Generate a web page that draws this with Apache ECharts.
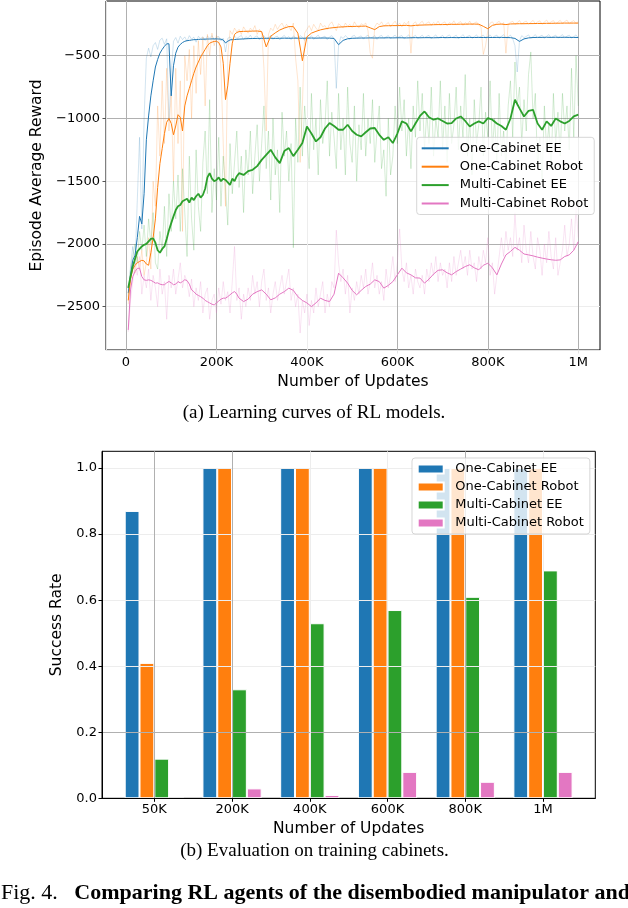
<!DOCTYPE html>
<html>
<head>
<meta charset="utf-8">
<script src="https://cdn.jsdelivr.net/npm/echarts@6/dist/echarts.min.js"></script>
<style>
  html, body { margin: 0; padding: 0; background: #fff; }
  #curves { position: absolute; left: 0; top: 0; width: 628px; height: 430px; }
  #bars { position: absolute; left: 0; top: 430px; width: 628px; height: 478px; }
</style>
</head>
<body>
<div id="curves"></div>
<div id="bars"></div>
<script>
// ---------- (a) learning curves, x in thousands of updates ----------
const smoothSteps = [5,10,15,20,25,30,35,40,45,50,55,60,65,70,75,80,85,90,95,100,
  105,110,115,120,125,130,135,140,145,150,155,160,165,170,175,180,185,190,195,200,
  205,210,215,220,225,230,235,240,245,250,
  260,270,280,290,300,310,320,330,340,350,360,370,380,390,400,410,420,430,440,450,
  460,470,480,490,500,510,520,530,540,550,560,570,580,590,600,610,620,630,640,650,
  660,670,680,690,700,710,720,730,740,750,760,770,780,790,800,810,820,830,840,850,
  860,870,880,890,900,910,920,930,940,950,960,970,980,990,1000];

const oneEE = [-2390,-2250,-2130,-2090,-1950,-1780,-1840,-1600,-1170,-980,-820,-700,-590,-530,-480,-450,-425,-405,-405,-820,
  -580,-480,-432,-410,-395,-385,-380,-378,-375,-372,-372,-370,-369,-368,-368,-367,-367,-366,-366,-366,
  -367,-368,-375,-398,-385,-374,-372,-371,-369,-368,
  -366,-364,-363,-362,-362,-361,-361,-362,-361,-360,
  -361,-360,-360,-361,-360,-359,-360,-359,-359,-360,
  -362,-412,-378,-365,-361,-360,-359,-359,-358,-359,
  -358,-358,-357,-358,-357,-357,-358,-357,-356,-357,
  -356,-356,-357,-356,-355,-356,-355,-356,-355,-355,
  -354,-355,-354,-355,-354,-355,-354,-354,-355,-356,
  -362,-386,-366,-358,-355,-354,-354,-353,-354,-353,
  -354,-353,-354,-354,-355];

const oneRobot = [-2450,-2280,-2200,-2170,-2150,-2140,-2130,-2135,-2160,-2170,-2070,-1950,-1800,-1550,-1360,-1240,-1120,-1030,-1000,-1040,
  -1130,-1060,-970,-990,-1100,-900,-820,-760,-700,-640,-590,-550,-510,-480,-450,-420,-400,-392,-386,-385,
  -395,-430,-560,-850,-740,-560,-400,-330,-315,-308,
  -306,-305,-304,-303,-308,-430,-345,-318,-295,-280,
  -268,-268,-320,-540,-350,-320,-306,-294,-286,-280,
  -276,-272,-270,-268,-267,-266,-265,-264,-278,-292,
  -268,-262,-261,-260,-260,-259,-258,-262,-258,-256,
  -255,-254,-253,-252,-252,-251,-250,-250,-249,-249,
  -248,-248,-249,-266,-285,-258,-250,-248,-252,-247,
  -246,-245,-245,-244,-244,-243,-243,-242,-242,-241,
  -241,-240,-240,-240,-240];

const multiEE = [-2350,-2260,-2180,-2120,-2060,-2040,-2020,-2007,-2000,-1980,-1960,-1955,-1990,-2050,-2070,-2040,-2020,-1960,-1890,-1834,
  -1780,-1730,-1700,-1690,-1660,-1650,-1640,-1670,-1630,-1650,-1620,-1600,-1630,-1610,-1560,-1470,-1436,-1480,-1500,-1490,
  -1470,-1500,-1480,-1490,-1510,-1530,-1480,-1500,-1460,-1436,
  -1450,-1420,-1409,-1380,-1330,-1290,-1250,-1310,-1356,-1260,
  -1236,-1300,-1250,-1196,-1064,-1120,-1183,-1150,-1080,-1037,
  -1060,-1090,-1090,-1050,-1100,-1130,-1143,-1110,-1080,-1076,
  -1130,-1170,-1150,-1196,-1120,-1023,-1040,-1103,-1040,-980,
  -944,-990,-1010,-1000,-1020,-1040,-1037,-1000,-984,-1020,
  -1064,-1040,-1023,-1040,-997,-1010,-1040,-1060,-1090,-1000,
  -851,-920,-984,-940,-931,-1040,-1090,-1023,-1060,-1000,
  -1023,-1040,-1020,-984,-970];

const multiRobot = [-2685,-2366,-2260,-2220,-2195,-2193,-2260,-2286,-2290,-2286,-2290,-2300,-2312,-2310,-2320,-2325,-2325,-2310,-2299,-2310,
  -2325,-2320,-2300,-2310,-2300,-2285,-2292,-2320,-2366,-2380,-2400,-2410,-2420,-2432,-2450,-2460,-2470,-2480,-2486,-2470,
  -2455,-2440,-2432,-2432,-2420,-2405,-2390,-2379,-2400,-2432,
  -2459,-2440,-2400,-2380,-2366,-2400,-2445,-2430,-2400,-2380,
  -2352,-2370,-2420,-2450,-2470,-2499,-2470,-2432,-2450,-2459,
  -2400,-2233,-2270,-2312,-2370,-2405,-2370,-2339,-2320,-2286,
  -2300,-2352,-2330,-2300,-2246,-2193,-2230,-2246,-2270,-2272,
  -2312,-2280,-2240,-2210,-2206,-2230,-2246,-2220,-2200,-2180,
  -2166,-2190,-2206,-2170,-2153,-2190,-2246,-2160,-2087,-2060,
  -2027,-2050,-2080,-2087,-2095,-2105,-2113,-2120,-2126,-2130,
  -2127,-2100,-2087,-2050,-1981];

// unsmoothed episode rewards (drawn faint)
const rawSteps = [5,10,15,20,25,30,35,40,45,50,55,60,65,70,75,80,85,90,95,100,
  105,110,115,120,125,130,135,140,145,150,155,160,165,170,175,180,185,190,195,200,
  205,210,215,220,225,230,235,240,245,250,255,260,265,270,275,280,285,290,295,300,
  305,310,315,320,325,330,335,340,345,350,355,360,365,370,375,380,385,390,395,400,
  405,410,415,420,425,430,435,440,445,450,455,460,465,470,475,480,485,490,495,500,
  505,510,515,520,525,530,535,540,545,550,555,560,565,570,575,580,585,590,595,600,
  605,610,615,620,625,630,635,640,645,650,655,660,665,670,675,680,685,690,695,700,
  705,710,715,720,725,730,735,740,745,750,755,760,765,770,775,780,785,790,795,800,
  805,810,815,820,825,830,835,840,845,850,855,860,865,870,875,880,885,890,895,900,
  905,910,915,920,925,930,935,940,945,950,955,960,965,970,975,980,985,990,995,1000];

const oneEERaw = [-2420,-2180,-2020,-2160,-1650,-1150,-1880,-1000,-520,-440,-510,-420,-395,-450,-375,-360,-410,-365,-1020,-640,
  -385,-355,-400,-345,-372,-350,-385,-340,-368,-352,-392,-346,-362,-350,-378,-344,-360,-340,-372,-355,
  -346,-382,-360,-470,-362,-350,-376,-344,-362,-350,-338,-372,-348,-360,-336,-366,-350,-342,-374,-352,
  -340,-368,-355,-338,-370,-350,-345,-375,-352,-338,-362,-348,-372,-342,-356,-366,-340,-352,-378,-346,
  -358,-340,-370,-350,-336,-364,-352,-344,-372,-350,-340,-368,-760,-420,-348,-362,-340,-356,-370,-345,
  -338,-362,-350,-342,-368,-348,-336,-360,-352,-340,-370,-346,-338,-362,-350,-340,-366,-348,-336,-358,
  -346,-340,-366,-350,-334,-360,-348,-338,-364,-350,-336,-358,-345,-338,-366,-348,-334,-360,-350,-338,
  -362,-345,-334,-358,-348,-336,-364,-350,-332,-356,-346,-338,-362,-348,-334,-358,-346,-336,-360,-348,
  -334,-356,-344,-336,-362,-346,-332,-358,-348,-336,-364,-420,-630,-380,-340,-356,-346,-334,-360,-348,
  -332,-358,-346,-336,-362,-344,-332,-356,-346,-336,-360,-346,-332,-358,-344,-336,-360,-348,-334,-356];

const oneRobotRaw = [-2480,-2300,-2150,-2230,-2100,-2200,-2050,-2250,-2150,-1950,-2200,-1500,-1700,-900,-1300,-700,-1200,-600,-1100,-800,
  -1500,-600,-1200,-700,-1900,-500,-700,-450,-1000,-420,-800,-380,-650,-350,-900,-330,-500,-320,-420,-340,
  -360,-600,-1200,-1700,-500,-300,-330,-280,-310,-290,-330,-270,-300,-320,-280,-300,-260,-330,-290,-310,
  -600,-1100,-330,-280,-300,-250,-290,-260,-240,-280,-250,-270,-300,-240,-520,-700,-1350,-900,-320,-290,
  -260,-300,-250,-280,-300,-240,-270,-260,-290,-250,-230,-270,-300,-245,-260,-280,-240,-265,-250,-275,
  -230,-260,-280,-245,-255,-240,-300,-480,-520,-270,-240,-255,-230,-265,-250,-235,-270,-245,-225,-260,
  -240,-270,-235,-250,-225,-480,-245,-230,-265,-240,-225,-255,-240,-230,-260,-235,-250,-225,-255,-240,
  -230,-262,-236,-248,-222,-255,-238,-228,-258,-236,-250,-224,-255,-240,-230,-258,-270,-490,-420,-300,
  -240,-230,-255,-238,-225,-252,-236,-480,-250,-234,-226,-252,-236,-220,-248,-232,-224,-250,-234,-218,
  -246,-230,-222,-250,-232,-216,-244,-230,-220,-248,-232,-218,-244,-228,-216,-246,-230,-220,-242,-228];

const multiEERaw = [-2400,-2200,-2100,-2000,-2150,-1900,-2050,-1850,-2100,-1800,-2000,-1750,-2150,-2200,-1900,-2050,-1700,-2100,-1600,-1900,
  -1500,-1800,-1450,-1900,-1400,-1750,-2100,-1300,-1800,-2050,-1250,-1700,-1900,-1350,-1100,-1600,-850,-1750,-1400,-1650,
  -1150,-1700,-1300,-1550,-1850,-1200,-1600,-1350,-1100,-1550,-1300,-1750,-1250,-1450,-1100,-1600,-1300,-1050,-1500,-1200,
  -900,-1400,-1100,-1650,-1000,-1450,-1250,-1750,-950,-1300,-1100,-1500,-1200,-2030,-1000,-1350,-750,-1300,-900,-1150,
  -1400,-800,-1250,-1000,-1450,-850,-1200,-1050,-700,-1300,-950,-1150,-1400,-800,-1250,-1000,-1450,-750,-1200,-1350,
  -900,-1500,-1050,-1250,-800,-1300,-1000,-1200,-850,-1350,-1100,-900,-1400,-1250,-1620,-1000,-1450,-1300,-900,-1200,
  -750,-1100,-850,-1300,-1000,-1400,-900,-1150,-700,-1100,-800,-1250,-950,-1200,-750,-1300,-1000,-1150,-700,-1250,
  -900,-1350,-800,-1200,-1050,-750,-1250,-900,-1150,-650,-1300,-1000,-1450,-850,-1200,-1050,-750,-1300,-950,-1150,
  -700,-1250,-1000,-1350,-800,-1300,-1100,-1400,-900,-700,-1150,-550,-900,-750,-1200,-850,-1100,-650,-470,-1000,
  -800,-1400,-1150,-1500,-900,-1250,-1050,-1400,-800,-1200,-950,-1300,-800,-1100,-900,-1250,-600,-1150,-500,-900];

const multiRobotRaw = [-2700,-2450,-2300,-2150,-2250,-2100,-2400,-2250,-2350,-2200,-2450,-2250,-2350,-2500,-2200,-2400,-2300,-2600,-2250,-2350,
  -2200,-2400,-2280,-2150,-2350,-2250,-2300,-2420,-2280,-2500,-2350,-2450,-2300,-2550,-2400,-2350,-2600,-2450,-2400,-2550,
  -2350,-2480,-2300,-2450,-2380,-2550,-2300,-2020,-2450,-2350,-2600,-2400,-2500,-2350,-2450,-2250,-2400,-2300,-2500,-2300,
  -2200,-2450,-2350,-2550,-2400,-2300,-2450,-2350,-2250,-2400,-2300,-2200,-2450,-2350,-2500,-2400,-2710,-2450,-2550,-2400,
  -2650,-2450,-2550,-2350,-2500,-2400,-2300,-2550,-2400,-2500,-2300,-2350,-1890,-2150,-2300,-2200,-2400,-2250,-2550,-2350,
  -2450,-2300,-2400,-2250,-2350,-2200,-2400,-2300,-2150,-2350,-2250,-2400,-2300,-2450,-2200,-2350,-2250,-2100,-2300,-2150,
  -1880,-2200,-2300,-2150,-2350,-2250,-2400,-2200,-2300,-2350,-2250,-2400,-2200,-2300,-2150,-2250,-2100,-2300,-2150,-2250,
  -2200,-2350,-2150,-2300,-2100,-2250,-2150,-2050,-2200,-2100,-2250,-2050,-2200,-2150,-2300,-2100,-2200,-2050,-2150,-1950,
  -2250,-2150,-2400,-2250,-2100,-1950,-2100,-1900,-2050,-1950,-2100,-1750,-2050,-1950,-2150,-1850,-2050,-2150,-1900,-2100,
  -2200,-1950,-2050,-2250,-2000,-2150,-1900,-2100,-2200,-1950,-2250,-2150,-2050,-1850,-2100,-2000,-1800,-2050,-1700,-1950];

const curveNames = ['One-Cabinet EE', 'One-Cabinet Robot', 'Multi-Cabinet EE', 'Multi-Cabinet Robot'];
const updateTicks = [0, 200, 400, 600, 800, 1000];
const rewardTicks = [-2500, -2000, -1500, -1000, -500];

// ---------- (b) evaluation bars ----------
const barCats = ['50K', '200K', '400K', '600K', '800K', '1M'];
const barOneEE = [0.87, 1.0, 1.0, 1.0, 1.0, 1.0];
const barOneRobot = [0.41, 1.0, 1.0, 1.0, 1.0, 1.0];
const barMultiEE = [0.12, 0.33, 0.53, 0.57, 0.61, 0.69];
const barMultiRobot = [0.0, 0.03, 0.01, 0.08, 0.05, 0.08];
const rateTicks = [0, 0.2, 0.4, 0.6, 0.8, 1.0];

const colors = ['#1f77b4', '#ff7f0e', '#2ca02c', '#e377c2'];
const FONT = 'DejaVu Sans';
const SERIF = 'Liberation Serif';
const GRID = '#b0b0b0';
const FAINT = '#ededed';

const pairs = (xs, ys) => xs.map((x, i) => [x, ys[i]]);
const minus = v => (v < 0 ? '\u2212' + Math.abs(v) : String(v));

// ---------- chart (a) ----------
const curves = echarts.init(document.getElementById('curves'));
const smooth = [oneEE, oneRobot, multiEE, multiRobot];
const raw = [oneEERaw, oneRobotRaw, multiEERaw, multiRobotRaw];
const lineSeries = [];
raw.forEach((d, i) => {
  lineSeries.push({
    type: 'line', name: curveNames[i] + ' (raw)', data: pairs(rawSteps, d),
    symbol: 'none', silent: true, z: 2,
    lineStyle: { color: colors[i], width: 1, opacity: 0.2 }
  });
});
smooth.forEach((d, i) => {
  lineSeries.push({
    type: 'line', name: curveNames[i], data: pairs(smoothSteps, d),
    symbol: 'none', z: 3,
    itemStyle: { color: colors[i] },
    lineStyle: { color: colors[i], width: i === 2 ? 1.8 : 1 }
  });
});

curves.setOption({
  animation: false,
  grid: { left: 106, top: 1, width: 494, height: 349, show: true, borderColor: '#000', borderWidth: 1 },
  xAxis: {
    type: 'value', min: -44.2, max: 1048, z: 1,
    name: 'Number of Updates', nameLocation: 'middle', nameGap: 24,
    nameTextStyle: { fontFamily: FONT, fontSize: 15.5, color: '#000' },
    axisLine: { show: true, onZero: false, lineStyle: { color: '#e4e4e4', width: 1 } },
    axisTick: { show: true, length: 3.5, customValues: updateTicks, lineStyle: { color: '#e4e4e4' } },
    axisLabel: {
      customValues: updateTicks, margin: 6, fontFamily: FONT, fontSize: 13, color: '#000',
      formatter: v => (v === 0 ? '0' : v === 1000 ? '1M' : v + 'K')
    },
    splitLine: { show: true, lineStyle: { color: [GRID, GRID, FAINT, GRID, GRID, GRID], width: 1 } }
  },
  yAxis: {
    type: 'value', min: -2845, max: -64, z: 1,
    name: 'Episode Average Reward', nameLocation: 'middle', nameGap: 58, nameRotate: 90,
    nameTextStyle: { fontFamily: FONT, fontSize: 15.5, color: '#000' },
    axisLine: { show: true, onZero: false, lineStyle: { color: '#e4e4e4', width: 1 } },
    axisTick: { show: true, length: 3.5, customValues: rewardTicks, lineStyle: { color: '#555' } },
    axisLabel: { customValues: rewardTicks, margin: 6, fontFamily: FONT, fontSize: 13, color: '#000', formatter: minus },
    splitLine: { show: true, lineStyle: { color: [FAINT, GRID, FAINT, GRID, GRID], width: 1 } }
  },
  legend: {
    data: curveNames, orient: 'vertical', left: 416.7, top: 137.3,
    padding: [4, 6, 4, 4], itemWidth: 27, itemHeight: 14, itemGap: 4.4,
    selectedMode: false,
    itemStyle: { opacity: 0 },
    backgroundColor: 'rgba(255,255,255,0.8)', borderColor: 'rgba(204,204,204,0.8)', borderWidth: 1, borderRadius: 3,
    textStyle: { fontFamily: FONT, fontSize: 13, color: '#000', lineHeight: 14, padding: [0, 0, 0, 6] }
  },
  graphic: [{
    type: 'text', x: 314, y: 413,
    style: { text: '(a) Learning curves of RL models.', fontFamily: SERIF, fontSize: 19, fill: '#000', textAlign: 'center', textVerticalAlign: 'middle' }
  }],
  series: lineSeries
});

// ---------- chart (b) ----------
const bars = echarts.init(document.getElementById('bars'));
const barIdx = barCats.map((c, i) => i);
const barVals = [barOneEE, barOneRobot, barMultiEE, barMultiRobot];

bars.setOption({
  animation: false,
  grid: { left: 102, top: 21.3, width: 493.3, height: 347, show: true, borderColor: '#000', borderWidth: 1 },
  xAxis: {
    type: 'value', min: -0.673, max: 5.673, z: 3,
    name: 'Number of Updates', nameLocation: 'middle', nameGap: 22,
    nameTextStyle: { fontFamily: FONT, fontSize: 15.5, color: '#000' },
    axisLine: { show: true, onZero: false, lineStyle: { color: '#000', width: 1 } },
    axisTick: { show: true, length: 3.5, customValues: barIdx, lineStyle: { color: '#000' } },
    axisLabel: { customValues: barIdx, margin: 5, fontFamily: FONT, fontSize: 13, color: '#000', formatter: v => barCats[v] },
    splitLine: { show: true, lineStyle: { color: [GRID, GRID, FAINT, FAINT, GRID, FAINT], width: 1 } }
  },
  yAxis: {
    type: 'value', min: 0, max: 1.0506, z: 3,
    name: 'Success Rate', nameLocation: 'middle', nameGap: 32.5, nameRotate: 90,
    nameTextStyle: { fontFamily: FONT, fontSize: 15.5, color: '#000' },
    axisLine: { show: true, onZero: false, lineStyle: { color: '#000', width: 1 } },
    axisTick: { show: true, length: 3.5, customValues: rateTicks, lineStyle: { color: '#000' } },
    axisLabel: { customValues: rateTicks, margin: 5, fontFamily: FONT, fontSize: 13, color: '#000', formatter: v => v.toFixed(1) },
    splitLine: { show: true, lineStyle: { color: [GRID, GRID, FAINT, FAINT, FAINT, FAINT], width: 1 } }
  },
  legend: {
    data: curveNames, orient: 'vertical', left: 412, top: 28,
    padding: [4, 6, 4, 4.7], itemWidth: 26, itemHeight: 9, itemGap: 4, icon: 'rect',
    selectedMode: false,
    backgroundColor: 'rgba(255,255,255,0.8)', borderColor: 'rgba(204,204,204,0.8)', borderWidth: 1, borderRadius: 3,
    textStyle: { fontFamily: FONT, fontSize: 13, color: '#000', lineHeight: 14, padding: [0, 0, 0, 6.6] }
  },
  graphic: [{
    type: 'text', x: 314.5, y: 421,
    style: { text: '(b) Evaluation on training cabinets.', fontFamily: SERIF, fontSize: 19, fill: '#000', textAlign: 'center', textVerticalAlign: 'middle' }
  }, {
    type: 'text', x: 1, y: 463,
    style: {
      text: '{n|Fig. 4.}{b|   Comparing RL agents of the disembodied manipulator and}',
      textVerticalAlign: 'middle', fill: '#000',
      rich: {
        n: { fontFamily: SERIF, fontSize: 22, fill: '#000' },
        b: { fontFamily: SERIF, fontSize: 22, fontWeight: 'bold', fill: '#000' }
      }
    }
  }],
  series: barVals.map((vals, i) => ({
    type: 'bar', name: curveNames[i], data: pairs(barIdx, vals),
    barWidth: 14.8, barGap: '0%', z: 2,
    itemStyle: { color: colors[i], borderColor: '#fff', borderWidth: 1 }
  }))
});
</script>
</body>
</html>
